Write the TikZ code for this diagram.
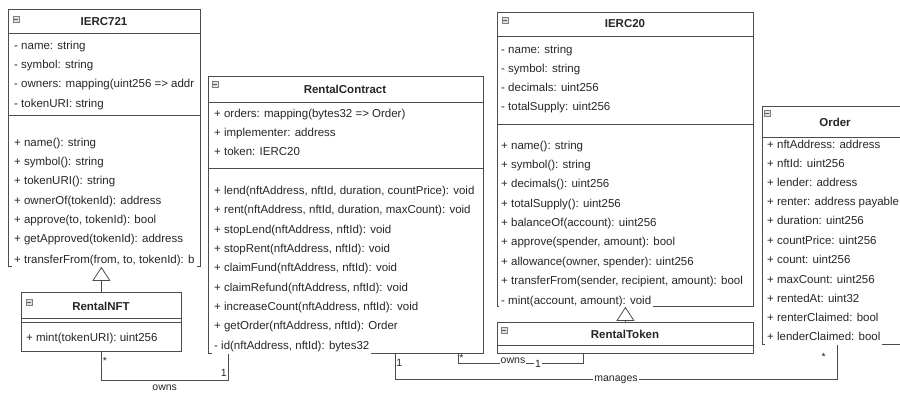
\documentclass[tikz,border=0pt]{standalone}
\usepackage{fontspec}
\setmainfont{Liberation Sans}
\usepackage{tikz}
\usetikzlibrary{arrows,arrows.meta}

\definecolor{linegray}{gray}{0.3}
\definecolor{textgray}{gray}{0.15}

\begin{document}
\begin{tikzpicture}[x=1pt, y=-1pt, font=\fontsize{11.5pt}{14pt}\selectfont, text=textgray]
	\tikzstyle{classbox} = [draw=linegray, line width=0.8pt, anchor=north west, inner sep=0pt]
	\tikzstyle{divider} = [draw=linegray, line width=0.8pt]
	\tikzstyle{title} = [font=\fontsize{11.5pt}{14pt}\selectfont\bfseries, inner sep=0pt]
	\tikzstyle{icon} = [draw=gray, fill=gray!25, minimum size=6pt, inner sep=0pt, path picture={\draw[gray!70!black, line width=0.6pt] ([xshift=1.3pt]path picture bounding box.west) -- ([xshift=-1.3pt]path picture bounding box.east);}]
	\tikzstyle{member} = [anchor=west, inner xsep=2pt, inner ysep=0pt, text height=8pt, text depth=2.5pt]
	\tikzstyle{lastrow} = [member, fill=white, inner ysep=1.5pt]
	\tikzstyle{inherit} = [draw=linegray, line width=0.8pt, -{Triangle[open, length=14pt, width=18pt]}]
	\tikzstyle{assoc} = [draw=linegray, line width=0.8pt]
	\tikzstyle{mult} = [inner sep=1pt, font=\fontsize{10.5pt}{12pt}\selectfont]
	\tikzstyle{lbl} = [mult, fill=white]

	\useasboundingbox (0,0) rectangle (900,392);
	\clip (0,0) rectangle (900,392);

	% class boxes
	\node[classbox, minimum width=192pt, minimum height=257pt] (ierc721) at (8,9) {};
	\node[classbox, minimum width=160pt, minimum height=59pt] (rentalnft) at (21,292) {};
	\node[classbox, minimum width=275pt, minimum height=277pt] (contract) at (208,76) {};
	\node[classbox, minimum width=256pt, minimum height=294pt] (ierc20) at (497,12) {};
	\node[classbox, minimum width=256pt, minimum height=31pt] (rtoken) at (497,322) {};
	\node[classbox, minimum width=146pt, minimum height=238pt] (order) at (762,106) {};

	\draw[divider] ([yshift=-24pt]ierc721.north west) -- ([yshift=-24pt]ierc721.north east);
	\draw[divider] ([yshift=-106pt]ierc721.north west) -- ([yshift=-106pt]ierc721.north east);
	\draw[divider] ([yshift=-26pt]rentalnft.north west) -- ([yshift=-26pt]rentalnft.north east);
	\draw[divider] ([yshift=-30pt]rentalnft.north west) -- ([yshift=-30pt]rentalnft.north east);
	\draw[divider] ([yshift=-26pt]contract.north west) -- ([yshift=-26pt]contract.north east);
	\draw[divider] ([yshift=-92pt]contract.north west) -- ([yshift=-92pt]contract.north east);
	\draw[divider] ([yshift=-24pt]ierc20.north west) -- ([yshift=-24pt]ierc20.north east);
	\draw[divider] ([yshift=-112pt]ierc20.north west) -- ([yshift=-112pt]ierc20.north east);
	\draw[divider] ([yshift=-23pt]rtoken.north west) -- ([yshift=-23pt]rtoken.north east);
	\draw[divider] ([yshift=-31pt]order.north west) -- ([yshift=-31pt]order.north east);

	% headers
	\path
	  node[icon] (i721) at (16,19) {}
	  node[title] (h721) at (104,22) {IERC721}
	  node[icon] (inft) at (29,302) {}
	  node[title] (hnft) at (101,306) {RentalNFT}
	  node[icon] (icon) at (215,84) {}
	  node[title] (hcon) at (345,89) {RentalContract}
	  node[icon] (i20) at (505,20) {}
	  node[title] (h20) at (625,24) {IERC20}
	  node[icon] (itok) at (504,330) {}
	  node[title] (htok) at (625,334) {RentalToken}
	  node[icon] (iord) at (767,113) {}
	  node[title] (hord) at (835,122) {Order}
	  ;

	% IERC721
	\path
	  node[member] (ka1) at (12,47) {- name: string}
	  node[member] (ka2) at (12,66) {- symbol: string}
	  node[member] (ka3) at (12,85) {- owners: mapping(uint256 => addr}
	  node[member] (ka4) at (12,105) {- tokenURI: string}
	  node[member] (km1) at (12,144) {+ name(): string}
	  node[member] (km2) at (12,163) {+ symbol(): string}
	  node[member] (km3) at (12,182) {+ tokenURI(): string}
	  node[member] (km4) at (12,202) {+ ownerOf(tokenId): address}
	  node[member] (km5) at (12,221) {+ approve(to, tokenId): bool}
	  node[member] (km6) at (12,240) {+ getApproved(tokenId): address}
	  node[lastrow] (km7) at (12,261) {+ transferFrom(from, to, tokenId): b}
	  ;

	% RentalNFT
	\path
	  node[member] (nm1) at (24,339) {+ mint(tokenURI): uint256}
	  ;

	% RentalContract
	\path
	  node[member] (ca1) at (212,115) {+ orders: mapping(bytes32 => Order)}
	  node[member] (ca2) at (212,134) {+ implementer: address}
	  node[member] (ca3) at (212,153) {+ token: IERC20}
	  node[member] (cm1) at (212,192) {+ lend(nftAddress, nftId, duration, countPrice): void}
	  node[member] (cm2) at (212,211) {+ rent(nftAddress, nftId, duration, maxCount): void}
	  node[member] (cm3) at (212,231) {+ stopLend(nftAddress, nftId): void}
	  node[member] (cm4) at (212,250) {+ stopRent(nftAddress, nftId): void}
	  node[member] (cm5) at (212,269) {+ claimFund(nftAddress, nftId): void}
	  node[member] (cm6) at (212,289) {+ claimRefund(nftAddress, nftId): void}
	  node[member] (cm7) at (212,308) {+ increaseCount(nftAddress, nftId): void}
	  node[member] (cm8) at (212,327) {+ getOrder(nftAddress, nftId): Order}
	  node[lastrow] (cm9) at (212,347) {- id(nftAddress, nftId): bytes32}
	  ;

	% IERC20
	\path
	  node[member] (ta1) at (499,51) {- name: string}
	  node[member] (ta2) at (499,70) {- symbol: string}
	  node[member] (ta3) at (499,89) {- decimals: uint256}
	  node[member] (ta4) at (499,108) {- totalSupply: uint256}
	  node[member] (tm1) at (499,147) {+ name(): string}
	  node[member] (tm2) at (499,166) {+ symbol(): string}
	  node[member] (tm3) at (499,185) {+ decimals(): uint256}
	  node[member] (tm4) at (499,205) {+ totalSupply(): uint256}
	  node[member] (tm5) at (499,224) {+ balanceOf(account): uint256}
	  node[member] (tm6) at (499,243) {+ approve(spender, amount): bool}
	  node[member] (tm7) at (499,263) {+ allowance(owner, spender): uint256}
	  node[member] (tm8) at (499,282) {+ transferFrom(sender, recipient, amount): bool}
	  node[lastrow] (tm9) at (499,302) {- mint(account, amount): void}
	  ;

	% Order
	\path
	  node[member] (oa1) at (765,146) {+ nftAddress: address}
	  node[member] (oa2) at (765,165) {+ nftId: uint256}
	  node[member] (oa3) at (765,184) {+ lender: address}
	  node[member] (oa4) at (765,203) {+ renter: address payable}
	  node[member] (oa5) at (765,222) {+ duration: uint256}
	  node[member] (oa6) at (765,242) {+ countPrice: uint256}
	  node[member] (oa7) at (765,261) {+ count: uint256}
	  node[member] (oa8) at (765,281) {+ maxCount: uint256}
	  node[member] (oa9) at (765,300) {+ rentedAt: uint32}
	  node[member] (oa10) at (765,319) {+ renterClaimed: bool}
	  node[lastrow] (oa11) at (765,338) {+ lenderClaimed: bool}
	  ;

	% generalization
	\draw[inherit] (rentalnft.north) -- (rentalnft.north |- ierc721.south);
	\draw[inherit] (rtoken.north) -- (rtoken.north |- ierc20.south);

	% associations
	\draw[assoc] (rentalnft.south) -- node[mult, pos=0.3, right] (s1) {*} ++(0,29)
	  -| node[mult, pos=0.25, below, yshift=-3pt] (own1) {owns} node[mult, pos=0.65, left] (n1) {1}
	  ([xshift=20pt]contract.south west);
	\draw[assoc] ([xshift=250pt]contract.south west) -- node[mult, pos=0.45, right] (s2) {*} ++(0,10)
	  -| node[lbl, pos=0.22, yshift=3pt] (own2) {owns} node[lbl, pos=0.32] (n2) {1}
	  ([xshift=86pt]rtoken.south west);
	\draw[assoc] ([xshift=187pt]contract.south west) -- node[mult, pos=0.35, right] (n3) {1} ++(0,26)
	  -| node[lbl, pos=0.25] (mng) {manages} node[mult, pos=0.83, left, xshift=-10pt] (s3) {*}
	  ([xshift=75pt]order.south west);
\end{tikzpicture}
\end{document}
